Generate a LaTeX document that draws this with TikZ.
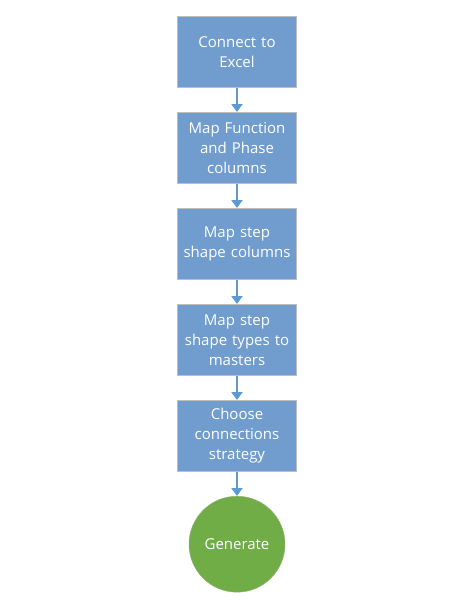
\documentclass[tikz,border=0pt]{standalone}
\usepackage{fontspec}
\setmainfont{Open Sans}
\usetikzlibrary{positioning}
\usetikzlibrary{arrows.meta}

\definecolor{stepblue}{RGB}{112,157,206}
\definecolor{stepedge}{RGB}{190,190,190}
\definecolor{flowblue}{RGB}{91,155,213}
\definecolor{gengreen}{RGB}{112,173,71}

\begin{document}
\begin{tikzpicture}
[x=1pt,y=-1pt,%
  stepbox/.style={shape=rectangle,draw=stepedge,line width=1pt,fill=stepblue,
    text=white,minimum width=119pt,minimum height=71pt,inner sep=2pt,
    text width=115pt,align=center,font=\fontsize{15}{20}\selectfont},%
  endnode/.style={shape=circle,fill=gengreen,draw=gengreen!85!black!70!white,
    text=white,minimum size=96pt,inner sep=0pt,font=\fontsize{15}{20}\selectfont},%
  flow/.style={-{Triangle[length=8pt,width=11pt]},flowblue,line width=2pt},%
  node distance=24pt]
\useasboundingbox (0,0) rectangle (470,600);
\node[stepbox] (excel) at (237,52) {Connect to\\Excel};
\node[stepbox,below=of excel] (phase) {Map Function\\and Phase\\columns};
\node[stepbox,below=of phase] (shape) {Map step\\shape columns};
\node[stepbox,below=of shape] (masters) {Map step\\shape types to\\masters};
\node[stepbox,below=of masters] (strategy) {Choose\\connections\\strategy};
\node[endnode,below=of strategy] (generate) {Generate};
\draw[flow] (excel) -- (phase);
\draw[flow] (phase) -- (shape);
\draw[flow] (shape) -- (masters);
\draw[flow] (masters) -- (strategy);
\draw[flow] (strategy) -- (generate);
\end{tikzpicture}
\end{document}
